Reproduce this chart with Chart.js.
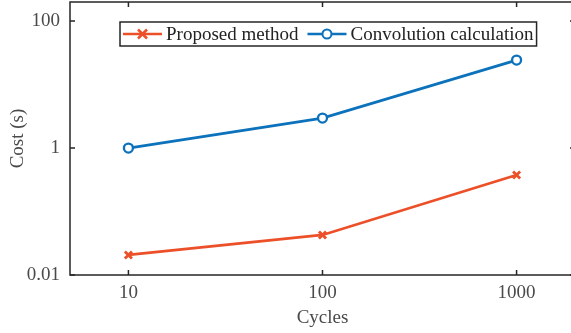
<!DOCTYPE html>
<html lang="en">
<head>
<meta charset="UTF-8">
<title>Cost vs Cycles</title>
<script src="https://cdn.jsdelivr.net/npm/chart.js@4"></script>
<style>
  html, body { margin: 0; padding: 0; background: #fff; overflow: hidden; }
  #chart { display: block; }
</style>
</head>
<body>
<canvas id="chart" width="576" height="333"></canvas>
<script>
// data (log-log)
const cycles = [10, 100, 1000];
const proposed = [0.0207, 0.0427, 0.376];
const convolution = [1.0, 2.97, 24.3];
const seriesNames = ['Proposed method', 'Convolution calculation'];
const xTicks = [10, 100, 1000];
const yTicks = [0.01, 1, 100];

const RED = '#EC5029';
const BLUE = '#0B72BB';
const AXIS = '#262626';
const TXT = '#4a4a4a';
const FONT = '"Liberation Serif", "Times New Roman", serif';

// box + inward ticks, matlab style
const boxPlugin = {
  id: 'box',
  afterDraw(chart) {
    const { ctx, chartArea: a, scales } = chart;
    ctx.save();
    ctx.strokeStyle = AXIS;
    ctx.lineWidth = 1.5;
    ctx.strokeRect(a.left, a.top, a.right - a.left, a.bottom - a.top);
    ctx.beginPath();
    xTicks.forEach(v => {
      const x = scales.x.getPixelForValue(v);
      ctx.moveTo(x, a.bottom); ctx.lineTo(x, a.bottom - 5);
      ctx.moveTo(x, a.top); ctx.lineTo(x, a.top + 5);
    });
    yTicks.forEach(v => {
      const y = scales.y.getPixelForValue(v);
      ctx.moveTo(a.left, y); ctx.lineTo(a.left + 5, y);
      ctx.moveTo(a.right, y); ctx.lineTo(a.right - 5, y);
    });
    ctx.stroke();
    ctx.restore();
  }
};

// legend drawn inside the axes with a frame
const legendPlugin = {
  id: 'boxLegend',
  afterDraw(chart) {
    const ctx = chart.ctx;
    const left = 120, top = 22, h = 24;
    const cy = top + h / 2;
    ctx.save();
    ctx.font = '19px ' + FONT;
    const widths = seriesNames.map(s => ctx.measureText(s).width);
    let total = 3;
    widths.forEach((w, i) => { total += 43 + w + (i < widths.length - 1 ? 9 : 3); });
    ctx.fillStyle = '#fff';
    ctx.fillRect(left, top, total, h);
    ctx.strokeStyle = AXIS;
    ctx.lineWidth = 1.5;
    ctx.strokeRect(left, top, total, h);

    let x = left + 3;
    chart.data.datasets.forEach((ds, i) => {
      ctx.strokeStyle = ds.borderColor;
      ctx.lineWidth = 2.5;
      ctx.beginPath();
      ctx.moveTo(x, cy); ctx.lineTo(x + 39, cy);
      ctx.stroke();
      const mx = x + 19.5, r = 4.5;
      ctx.beginPath();
      if (ds.pointStyle === 'crossRot') {
        ctx.moveTo(mx - r, cy - r); ctx.lineTo(mx + r, cy + r);
        ctx.moveTo(mx - r, cy + r); ctx.lineTo(mx + r, cy - r);
        ctx.stroke();
      } else {
        ctx.arc(mx, cy, r, 0, Math.PI * 2);
        ctx.fillStyle = '#fff';
        ctx.fill();
        ctx.lineWidth = 2;
        ctx.stroke();
      }
      ctx.fillStyle = '#222';
      ctx.textBaseline = 'middle';
      ctx.textAlign = 'left';
      ctx.fillText(seriesNames[i], x + 43, cy + 1);
      x += 43 + widths[i] + 9;
    });
    ctx.restore();
  }
};

new Chart(document.getElementById('chart'), {
  type: 'line',
  data: {
    datasets: [
      {
        label: seriesNames[0],
        data: cycles.map((c, i) => ({ x: c, y: proposed[i] })),
        borderColor: RED,
        backgroundColor: RED,
        borderWidth: 2.8,
        pointStyle: 'crossRot',
        pointRadius: 5,
        pointBorderWidth: 2.8,
        tension: 0
      },
      {
        label: seriesNames[1],
        data: cycles.map((c, i) => ({ x: c, y: convolution[i] })),
        borderColor: BLUE,
        backgroundColor: '#fff',
        borderWidth: 2.8,
        pointStyle: 'circle',
        pointRadius: 4.5,
        pointBorderWidth: 2.3,
        tension: 0
      }
    ]
  },
  options: {
    responsive: false,
    animation: false,
    layout: { autoPadding: false, padding: { top: 2, right: 1, left: 0, bottom: 0 } },
    plugins: {
      legend: { display: false },
      tooltip: { enabled: false }
    },
    scales: {
      x: {
        type: 'logarithmic',
        min: 5,
        max: 2000,
        grid: { display: false, drawTicks: false },
        border: { display: false },
        afterBuildTicks: s => { s.ticks = xTicks.map(v => ({ value: v })); },
        afterFit: s => { s.height = 58; s.paddingLeft = 0; s.paddingRight = 0; },
        ticks: {
          color: TXT,
          font: { family: FONT, size: 19 },
          padding: 7,
          maxRotation: 0,
          callback: v => String(v)
        },
        title: {
          display: true,
          text: 'Cycles',
          color: TXT,
          font: { family: FONT, size: 19 },
          padding: { top: 0, bottom: 4 }
        }
      },
      y: {
        type: 'logarithmic',
        min: 0.01,
        max: 200,
        grid: { display: false, drawTicks: false },
        border: { display: false },
        afterBuildTicks: s => { s.ticks = yTicks.map(v => ({ value: v })); },
        afterFit: s => { s.width = 70; s.paddingTop = 0; s.paddingBottom = 0; },
        ticks: {
          color: TXT,
          font: { family: FONT, size: 19 },
          padding: 10,
          callback: v => String(v)
        },
        title: {
          display: true,
          text: 'Cost (s)',
          color: TXT,
          font: { family: FONT, size: 19 },
          padding: { top: 7, bottom: 0 }
        }
      }
    }
  },
  plugins: [boxPlugin, legendPlugin]
});
</script>
</body>
</html>
